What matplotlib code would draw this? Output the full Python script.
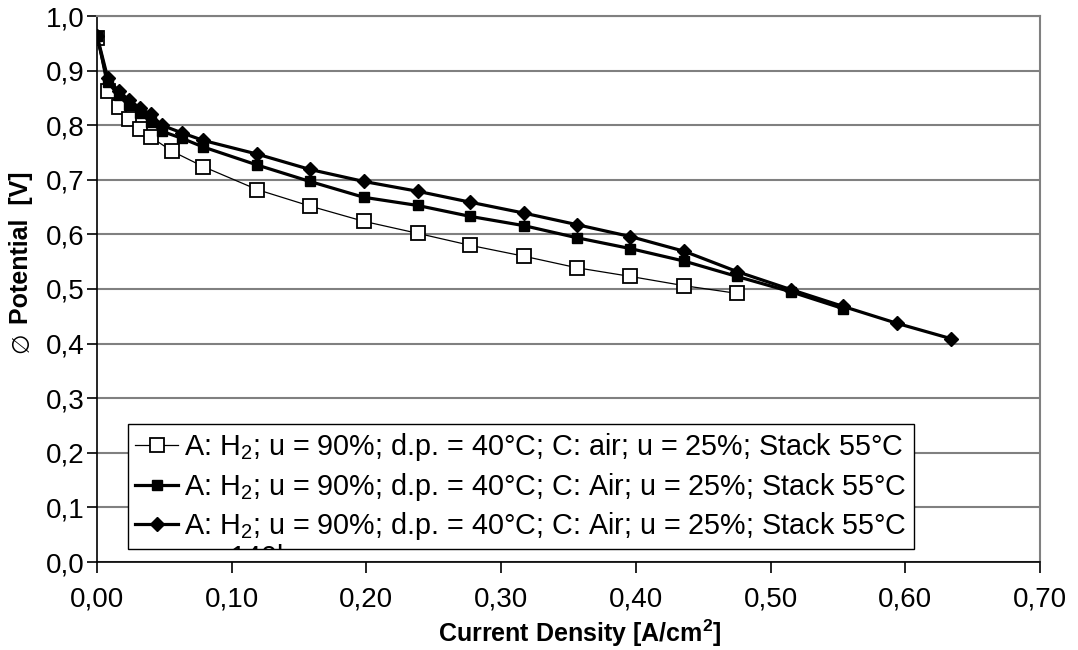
import matplotlib
matplotlib.use("Agg")
import matplotlib.pyplot as plt
from matplotlib.ticker import FuncFormatter

plt.rcParams['font.family'] = ['Liberation Sans', 'DejaVu Sans']
plt.rcParams['mathtext.fontset'] = 'custom'
plt.rcParams['mathtext.rm'] = 'Liberation Sans'
plt.rcParams['mathtext.bf'] = 'Liberation Sans:bold'

# data
x_air = [0.000, 0.008, 0.016, 0.024, 0.032, 0.040, 0.056, 0.079, 0.119, 0.158,
         0.198, 0.238, 0.277, 0.317, 0.356, 0.396, 0.436, 0.475]
v_air = [0.960, 0.862, 0.833, 0.811, 0.793, 0.778, 0.752, 0.724, 0.682, 0.652,
         0.624, 0.602, 0.580, 0.560, 0.539, 0.523, 0.506, 0.492]

x_a1 = [0.000, 0.008, 0.016, 0.024, 0.032, 0.040, 0.048, 0.063, 0.079, 0.119,
        0.158, 0.198, 0.238, 0.277, 0.317, 0.356, 0.396, 0.436, 0.475, 0.515, 0.554]
v_a1 = [0.963, 0.879, 0.855, 0.837, 0.822, 0.806, 0.789, 0.776, 0.760, 0.727,
        0.697, 0.668, 0.653, 0.633, 0.616, 0.594, 0.574, 0.551, 0.523, 0.495, 0.464]

x_a2 = [0.000, 0.008, 0.016, 0.024, 0.032, 0.040, 0.048, 0.063, 0.079, 0.119,
        0.158, 0.198, 0.238, 0.277, 0.317, 0.356, 0.396, 0.436, 0.475, 0.515,
        0.554, 0.594, 0.634]
v_a2 = [0.964, 0.886, 0.862, 0.846, 0.831, 0.820, 0.800, 0.786, 0.772, 0.747,
        0.719, 0.697, 0.679, 0.659, 0.639, 0.618, 0.596, 0.569, 0.532, 0.499,
        0.468, 0.437, 0.409]

labels = ["A: H$_2$; u = 90%; d.p. = 40°C; C: air; u = 25%; Stack 55°C",
          "A: H$_2$; u = 90%; d.p. = 40°C; C: Air; u = 25%; Stack 55°C",
          "A: H$_2$; u = 90%; d.p. = 40°C; C: Air; u = 25%; Stack 55°C"]

fig = plt.figure(figsize=(10.78, 6.5), dpi=100)
ax = fig.add_axes([97/1078, 1 - 562/650, (1040 - 97)/1078, (562 - 16)/650])

ax.plot(x_air, v_air, color='black', lw=0.9, marker='s', ms=9.5,
        mfc='white', mec='black', mew=1.3, label=labels[0], zorder=3)
ax.plot(x_a1, v_a1, color='black', lw=2.3, marker='s', ms=7.5,
        mfc='black', mec='black', label=labels[1], zorder=4)
ax.plot(x_a2, v_a2, color='black', lw=2.3, marker='D', ms=7,
        mfc='black', mec='black', label=labels[2], zorder=5)

ax.set_xlim(0, 0.70)
ax.set_ylim(0, 1.0)
ax.set_xticks([i / 10 for i in range(8)])
ax.set_yticks([i / 10 for i in range(11)])
ax.xaxis.set_major_formatter(FuncFormatter(lambda v, p: f"{v:.2f}".replace('.', ',')))
ax.yaxis.set_major_formatter(FuncFormatter(lambda v, p: f"{v:.1f}".replace('.', ',')))
ax.tick_params(axis='both', direction='out', width=1.2, labelsize=20, colors='black')
ax.tick_params(axis='x', length=8, pad=10)
ax.tick_params(axis='y', length=7, pad=2)
ax.yaxis.grid(True, color='#808080', lw=1.5)
ax.set_axisbelow(True)
for s in ['top', 'right']:
    ax.spines[s].set_color('#808080')
    ax.spines[s].set_linewidth(1.5)
for s in ['left', 'bottom']:
    ax.spines[s].set_color('black')
    ax.spines[s].set_linewidth(1.2)

fig.text(580/1078, 1 - 633/650, "Current Density [A/cm$^\\mathbf{2}$]", fontsize=18,
         fontweight='bold', ha='center', va='center')
fig.text(21/1078, 1 - 248/650, "Potential  [V]", rotation=90, fontsize=18,
         fontweight='bold', ha='center', va='center')
fig.text(21/1078, 1 - 343/650, "∅", rotation=90, fontsize=17,
         ha='center', va='center', family=['DejaVu Sans'])

leg = ax.legend(loc='lower left', bbox_to_anchor=(128/1078, 1 - 549/650),
                bbox_transform=fig.transFigure, borderaxespad=0, fontsize=20.7,
                frameon=True, fancybox=False, edgecolor='black', framealpha=1,
                handlelength=1.5, handletextpad=0.2, labelspacing=0.25,
                borderpad=0.25)
leg.get_frame().set_linewidth(1.0)

# wrapped continuation of the third label, cut off by the legend frame
fig.canvas.draw()
box = leg.get_frame().get_window_extent()
t = fig.text(230/1078, 1 - 544/650, "140l", fontsize=20.7, va='top', ha='left')
t.set_clip_box(box)
t.set_clip_on(True)

fig.savefig("out.png", dpi=100)
